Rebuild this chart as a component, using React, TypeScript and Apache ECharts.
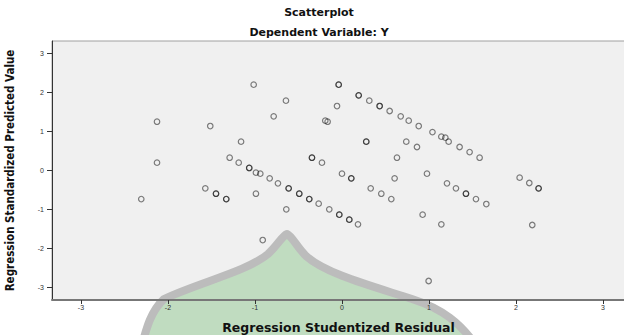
import React, { useEffect, useRef } from "react";
import * as echarts from "echarts";

// Regression Studentized Residual (x) and Regression Standardized Predicted Value (y)
const residualX: number[] = [
  -2.126, -1.514, -1.16, -1.291, -1.187, -2.126, -1.015, -0.038, -0.038, 0.192,
  0.192, 0.314, 0.433, 0.433, 0.548, 0.675, 0.767, 0.882, 1.04, -0.644,
  -0.785, -0.057, -0.192, -0.165, 0.279, 0.279, 0.739, 0.862, 0.632, -0.345,
  -0.345, -0.23, -1.066, -1.066, 1.142, 1.188, 1.226, 1.352, 1.467, 1.582,
  -2.307, -1.571, -1.448, -1.448, -1.33, -1.33, -0.989, -0.939, -0.831, -0.736,
  -0.613, -0.613, -0.491, -0.491, -0.376, -0.376, -0.268, -0.146, -0.031, -0.031,
  0.084, 0.084, 0.184, -0.989, -0.64, -0.911, 0.0, 0.107, 0.107, 0.605,
  0.977, 0.33, 0.452, 0.567, 0.927, 0.996, 1.207, 1.31, 1.425, 1.425,
  1.54, 1.659, 1.142, 2.042, 2.153, 2.26, 2.26, 2.187,
];
const predictedY: number[] = [
  1.256, 1.146, 0.744, 0.333, 0.205, 0.205, 2.205, 2.205, 2.205, 1.933,
  1.933, 1.795, 1.659, 1.659, 1.531, 1.395, 1.282, 1.146, 0.99, 1.795,
  1.395, 1.659, 1.282, 1.256, 0.744, 0.744, 0.744, 0.608, 0.333, 0.333,
  0.333, 0.205, 0.07, 0.07, 0.872, 0.846, 0.744, 0.608, 0.479, 0.333,
  -0.726, -0.451, -0.59, -0.59, -0.726, -0.726, -0.05, -0.077, -0.195, -0.323,
  -0.451, -0.451, -0.59, -0.59, -0.726, -0.726, -0.846, -0.99, -1.128, -1.128,
  -1.256, -1.256, -1.374, -0.59, -0.99, -1.777, -0.077, -0.195, -0.195, -0.195,
  -0.077, -0.451, -0.59, -0.726, -1.128, -2.828, -0.323, -0.451, -0.59, -0.59,
  -0.726, -0.854, -1.374, -0.179, -0.315, -0.451, -0.451, -1.392,
];
const xTickValues: number[] = [-3, -2, -1, 0, 1, 2, 3];
const yTickValues: number[] = [-3, -2, -1, 0, 1, 2, 3];

const chartTitle = "Scatterplot";
const chartSubtitle = "Dependent Variable: Y";
const xName = "Regression Studentized Residual";
const yName = "Regression Standardized Predicted Value";

const WATERMARK_D =
  "M140 352 C146 330 150 312 164 299 C200 282 246 272 268 254 C278 245 282 236 287 234 " +
  "C292 236 296 246 306 256 C326 274 372 286 412 299 C440 308 462 322 480 352 Z";
echarts.graphic.registerShape("logo", echarts.graphic.extendPath(WATERMARK_D, {}) as any);

export default function App() {
  const ref = useRef<HTMLDivElement>(null);
  useEffect(() => {
    if (!ref.current) return;
    const chart = echarts.init(ref.current, null, { renderer: "svg" });
    const points = residualX.map((x, i) => [x, predictedY[i]]);
    const font = "'DejaVu Sans', 'Liberation Sans', Arial, sans-serif";
    chart.setOption({
      animation: false,
      backgroundColor: "#ffffff",
      grid: {
        left: 52,
        top: 41,
        right: -1,
        bottom: 35,
        containLabel: false,
        outerBoundsMode: "none",
        show: true,
        backgroundColor: "#f0f0f0",
        borderColor: "#a0a0a0",
        borderWidth: 1,
        z: 0,
      },
      graphic: {
        z: 1,
        elements: [
          {
            type: "logo",
            x: 0,
            y: 0,
            z: 1,
            silent: true,
            style: {
              fill: "#c0dcc0",
              stroke: "#bcbcbc",
              lineWidth: 8,
              lineJoin: "round",
            },
          },
          {
            type: "text",
            x: 319,
            y: 12,
            z: 10,
            style: {
              text: chartTitle,
              align: "center",
              verticalAlign: "middle",
              fontSize: 11,
              fontWeight: "bold",
              fontFamily: font,
              fill: "#111",
            },
          },
          {
            type: "text",
            x: 319,
            y: 32,
            z: 10,
            style: {
              text: chartSubtitle,
              align: "center",
              verticalAlign: "middle",
              fontSize: 11,
              fontWeight: "bold",
              fontFamily: font,
              fill: "#111",
            },
          },
        ],
      },
      xAxis: {
        type: "value",
        min: -3.333,
        max: 3.253,
        z: 10,
        name: xName,
        nameLocation: "middle",
        nameGap: 21,
        nameTextStyle: {
          fontSize: 12.5,
          fontWeight: "bold",
          fontFamily: font,
          color: "#111",
        },
        axisLine: { show: true, onZero: false, lineStyle: { color: "#777", width: 2 } },
        axisTick: {
          show: true,
          customValues: xTickValues,
          length: 4,
          lineStyle: { color: "#333" },
        },
        axisLabel: {
          customValues: xTickValues,
          fontSize: 7,
          color: "#333",
          margin: 4,
          fontFamily: "'Liberation Sans', Arial, sans-serif",
        },
        splitLine: { show: false },
      },
      yAxis: {
        type: "value",
        min: -3.315,
        max: 3.326,
        z: 10,
        name: yName,
        nameLocation: "middle",
        nameRotate: 90,
        nameGap: 36,
        nameTextStyle: {
          fontSize: 11.5,
          fontWeight: "bold",
          fontFamily: "'Liberation Sans Narrow', 'DejaVu Sans Condensed', 'Liberation Sans', sans-serif",
          color: "#111",
        },
        axisLine: { show: true, onZero: false, lineStyle: { color: "#333", width: 1 } },
        axisTick: {
          show: true,
          customValues: yTickValues,
          length: 5,
          lineStyle: { color: "#333" },
        },
        axisLabel: {
          customValues: yTickValues,
          fontSize: 7,
          color: "#333",
          margin: 8,
          fontFamily: "'Liberation Sans', Arial, sans-serif",
        },
        splitLine: { show: false },
      },
      series: [
        {
          type: "scatter",
          z: 11,
          data: points,
          symbol: "circle",
          symbolSize: 5.5,
          itemStyle: {
            color: "rgba(0,0,0,0)",
            borderColor: "rgba(0,0,0,0.62)",
            borderWidth: 1.2,
          },
        },
      ],
    });
    return () => chart.dispose();
  }, []);
  return (
    <div
      ref={ref}
      style={{ position: "absolute", left: 0, top: 0, width: 624, height: 335 }}
    />
  );
}
